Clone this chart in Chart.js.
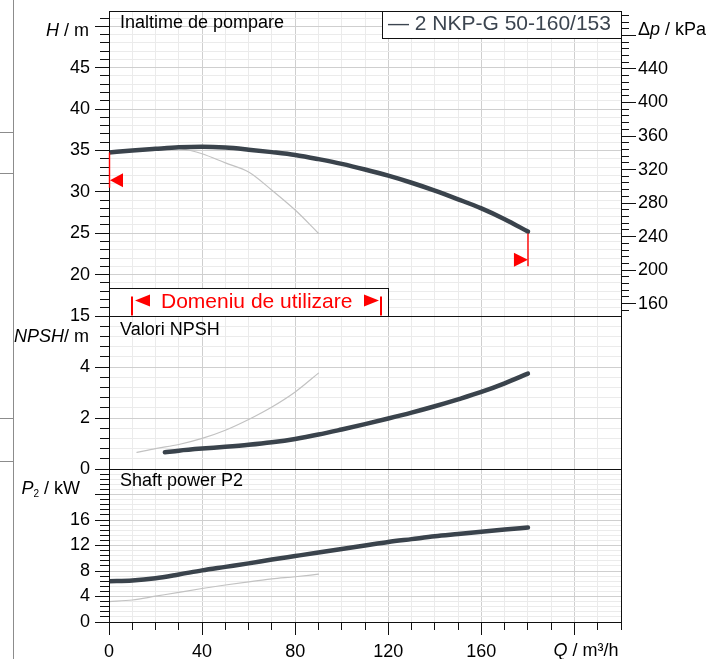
<!DOCTYPE html>
<html><head><meta charset="utf-8">
<script src="https://cdn.jsdelivr.net/npm/chart.js@4.4.1/dist/chart.umd.min.js"></script>
<style>
html,body{margin:0;padding:0;background:#fff;width:712px;height:659px;overflow:hidden;}
#wrap{position:relative;width:712px;height:659px;}
canvas{position:absolute;left:0;top:0;}
.pg{position:absolute;background:#8c8c8c;}
</style></head><body>
<div id="wrap">
<div class="pg" style="left:13px;top:0;width:1px;height:659px"></div>
<div class="pg" style="left:0;top:132px;width:14px;height:1px"></div>
<div class="pg" style="left:0;top:173px;width:14px;height:1px"></div>
<div class="pg" style="left:0;top:418px;width:14px;height:1px"></div>
<div class="pg" style="left:0;top:461px;width:14px;height:1px"></div>
<canvas id="cH" width="712" height="659"></canvas>
<canvas id="cN" width="712" height="659"></canvas>
<canvas id="cP" width="712" height="659"></canvas>
</div>
<script>
// ---------- data ----------
const qMain      = [0,10,20,30,40,50,60,70,80,90,100,110,120,130,140,150,160,170,180];
const headMain   = [34.75,35.0,35.2,35.38,35.45,35.35,35.1,34.8,34.45,33.95,33.38,32.7,31.95,31.1,30.15,29.1,28.0,26.7,25.2];
const qHeadAlt   = [30,35,40,50,60,70,80,90];
const headAlt    = [35.25,35.0,34.6,33.5,32.4,30.2,27.8,25.0];

const qNpshMain  = [24,30,40,50,60,70,80,90,100,110,120,130,140,150,160,170,180];
const npshMain   = [0.66,0.72,0.80,0.87,0.95,1.05,1.18,1.35,1.55,1.76,1.98,2.21,2.46,2.73,3.02,3.36,3.74];
const qNpshAlt   = [12,20,30,40,50,60,70,80,90];
const npshAlt    = [0.65,0.80,0.96,1.20,1.52,1.94,2.43,3.02,3.76];

const powerMain  = [6.4,6.5,6.85,7.45,8.1,8.65,9.2,9.8,10.35,10.9,11.45,12.0,12.55,13.0,13.45,13.8,14.15,14.5,14.82];
const qPowerAlt  = [0,10,20,30,40,50,60,70,80,90];
const powerAlt   = [3.2,3.45,4.05,4.65,5.25,5.8,6.3,6.75,7.1,7.5];

const qTickLabels     = [0,40,80,120,160];
const hTickLabels     = [15,20,25,30,35,40,45];
const dpTickLabels    = [160,200,240,280,320,360,400,440];
const npshTickLabels  = [0,2,4];
const powerTickLabels = [0,4,8,12,16];

const seriesName = '2 NKP-G 50-160/153';
const rangeLabel = 'Domeniu de utilizare';
// operating-range markers (data units)
const rangeStartQ = 10, rangeEndQ = 117, rangeBoxEndQ = 120;
const leftMark  = {q:0,   hFrom:34.75, hTo:30.5, hArrow:31.4};
const rightMark = {q:180, hFrom:25.2,  hTo:21.0, hArrow:21.8};

// ---------- style ----------
const FONT = "'Liberation Sans', Arial, sans-serif";
const MAIN = '#3a434c', ALT = '#c2c2c2';
const GRID_MAJOR = '#cfcfcf', GRID_MINOR = '#ebebeb';

function isMult(v, m){ const r = v/m; return Math.abs(r - Math.round(r)) < 1e-6; }
function near(v, arr){ return arr.some(a => Math.abs(a - v) < 1e-6); }
function al(p){ return Math.round(p - 0.5) + 0.5; }
function zeroPad(s){ s.paddingTop = 0; s.paddingBottom = 0; s.paddingLeft = 0; s.paddingRight = 0; }
function fixW(w){ return s => { s.width = w; zeroPad(s); }; }
function fixH(h){ return s => { s.height = h; zeroPad(s); }; }

function xScale(show){
  return {
    type:'linear', position:'bottom', min:0, max:220,
    border:{display:false},
    grid:{drawTicks:false, lineWidth:1, color: c => isMult(c.tick.value,40) ? GRID_MAJOR : GRID_MINOR},
    ticks:{display:show, stepSize:10, autoSkip:false, includeBounds:false, maxRotation:0, padding:19,
      color:'#000', font:{family:FONT, size:18},
      callback: v => near(v, qTickLabels) ? String(v) : ''},
    afterFit: fixH(show ? 37 : 0)
  };
}
function yScale(min, max, step, majorStep, labels, pos, width, pad, grid){
  return {
    type:'linear', position:pos, min:min, max:max,
    border:{display:false},
    grid: grid ? {drawTicks:false, lineWidth:1, color: c => isMult(c.tick.value, majorStep) ? GRID_MAJOR : GRID_MINOR}
               : {display:false, drawTicks:false},
    ticks:{stepSize:step, autoSkip:false, includeBounds:false, padding:pad, color:'#000',
      font:{family:FONT, size:18},
      callback: v => near(v, labels) ? String(v) : ''},
    afterFit: fixW(width)
  };
}
function lineDs(qs, ys, color, width, yAxisID){
  return {
    data: qs.map((q,i) => ({x:q, y:ys[i]})),
    borderColor: color, borderWidth: width, pointRadius: 0, fill: false,
    cubicInterpolationMode: 'monotone', borderCapStyle: 'round', borderJoinStyle:'round',
    yAxisID: yAxisID
  };
}

function drawTicks(ctx, scale, side, majorStep, majorLen, minorLen){
  ctx.save(); ctx.strokeStyle = '#111'; ctx.lineWidth = 1; ctx.beginPath();
  scale.ticks.forEach(t => {
    const len = isMult(t.value, majorStep) ? majorLen : minorLen;
    if (side === 'left' || side === 'right'){
      const y = al(scale.getPixelForValue(t.value));
      const x0 = side === 'left' ? scale.right : scale.left;
      ctx.moveTo(x0, y); ctx.lineTo(side === 'left' ? x0 - len : x0 + len, y);
    } else {
      const x = al(scale.getPixelForValue(t.value));
      ctx.moveTo(x, scale.top); ctx.lineTo(x, scale.top + len);
    }
  });
  ctx.stroke(); ctx.restore();
}
function drawFrame(ctx, a){
  ctx.save(); ctx.strokeStyle = '#111'; ctx.lineWidth = 1;
  ctx.strokeRect(al(a.left), al(a.top), al(a.right) - al(a.left), al(a.bottom) - al(a.top));
  ctx.restore();
}
// segments: [text, italic, size, dy]
function drawRich(ctx, segs, x, y, align, color){
  ctx.save(); ctx.fillStyle = color || '#000'; ctx.textBaseline = 'alphabetic'; ctx.textAlign = 'left';
  const fontOf = s => (s[1] ? 'italic ' : '') + (s[2] || 18) + 'px ' + FONT;
  let total = 0;
  segs.forEach(s => { ctx.font = fontOf(s); total += ctx.measureText(s[0]).width; });
  let cx = align === 'right' ? x - total : x;
  segs.forEach(s => { ctx.font = fontOf(s); ctx.fillText(s[0], cx, y + (s[3] || 0)); cx += ctx.measureText(s[0]).width; });
  ctx.restore();
}
function tri(ctx, tipX, cy, dir, w, h, color){
  ctx.save(); ctx.fillStyle = color; ctx.beginPath();
  ctx.moveTo(tipX, cy); ctx.lineTo(tipX - dir*w, cy - h); ctx.lineTo(tipX - dir*w, cy + h); ctx.closePath(); ctx.fill();
  ctx.restore();
}

const base = {
  responsive:false, animation:false, devicePixelRatio:1,
  plugins:{legend:{display:false}, tooltip:{enabled:false}, title:{display:false}},
  events: []
};

// ---------- Head chart ----------
new Chart(document.getElementById('cH'), {
  type:'line',
  data:{datasets:[
    lineDs(qMain, headMain, MAIN, 4.5, 'y'),
    lineDs(qHeadAlt, headAlt, ALT, 1.2, 'y')
  ]},
  options: Object.assign({}, base, {
    layout:{padding:{top:11, bottom:343, left:0, right:0}},
    scales:{
      x: xScale(false),
      y: yScale(15, 51.85, 1, 5, hTickLabels, 'left', 109, 19, true),
      y1: yScale(145.3, 509.2, 8, 40, dpTickLabels, 'right', 91, 17, false)
    }
  }),
  plugins:[{ id:'decorH', afterDraw(chart){
    const ctx = chart.ctx, a = chart.chartArea, xs = chart.scales.x, ys = chart.scales.y;
    drawFrame(ctx, a);
    drawTicks(ctx, ys, 'left', 5, 14, 9);
    drawTicks(ctx, chart.scales.y1, 'right', 40, 15, 8);
    // operating range markers on curve ends
    ctx.save(); ctx.strokeStyle = '#ff0000'; ctx.lineWidth = 1.4; ctx.beginPath();
    let x = Math.round(xs.getPixelForValue(leftMark.q)) + 0.5;
    ctx.moveTo(x, ys.getPixelForValue(leftMark.hFrom)); ctx.lineTo(x, ys.getPixelForValue(leftMark.hTo));
    x = Math.round(xs.getPixelForValue(rightMark.q));
    ctx.moveTo(x, ys.getPixelForValue(rightMark.hFrom) + 2); ctx.lineTo(x, ys.getPixelForValue(rightMark.hTo));
    ctx.stroke(); ctx.restore();
    tri(ctx, xs.getPixelForValue(leftMark.q) + 1, ys.getPixelForValue(leftMark.hArrow), -1, 13, 7, '#ff0000');
    tri(ctx, xs.getPixelForValue(rightMark.q), ys.getPixelForValue(rightMark.hArrow), 1, 14, 7, '#ff0000');
    // Domeniu box
    const bx0 = al(xs.getPixelForValue(0)), bx1 = al(xs.getPixelForValue(rangeBoxEndQ));
    const by1 = al(a.bottom), by0 = by1 - 28;
    ctx.save(); ctx.fillStyle = '#fff'; ctx.fillRect(bx0, by0, bx1 - bx0, by1 - by0);
    ctx.strokeStyle = '#111'; ctx.lineWidth = 1; ctx.strokeRect(bx0, by0, bx1 - bx0, by1 - by0);
    ctx.strokeStyle = '#ff0000'; ctx.lineWidth = 2; ctx.beginPath();
    const rx0 = Math.round(xs.getPixelForValue(rangeStartQ)), rx1 = Math.round(xs.getPixelForValue(rangeEndQ));
    ctx.moveTo(rx0, by0 + 8); ctx.lineTo(rx0, by1 - 1);
    ctx.moveTo(rx1, by0 + 8); ctx.lineTo(rx1, by1 - 1);
    ctx.stroke(); ctx.restore();
    tri(ctx, rx0 + 3, by0 + 12, -1, 15, 6, '#ff0000');
    tri(ctx, rx1 - 2, by0 + 12, 1, 15, 6, '#ff0000');
    drawRich(ctx, [[rangeLabel, false, 21]], rx0 + 29, by0 + 19.5, 'left', '#ff0000');
    // legend box
    ctx.save(); ctx.fillStyle = '#fff';
    const lx0 = 382.5, lx1 = al(a.right), ly0 = al(a.top), ly1 = ly0 + 27;
    ctx.fillRect(lx0, ly0, lx1 - lx0, ly1 - ly0);
    ctx.strokeStyle = '#111'; ctx.lineWidth = 1; ctx.strokeRect(lx0, ly0, lx1 - lx0, ly1 - ly0);
    ctx.restore();
    drawRich(ctx, [['\u2014 ' + seriesName, false, 21]], lx0 + 5.5, 30, 'left', '#3c4550');
    // texts
    drawRich(ctx, [['Inaltime de pompare', false, 18]], a.left + 11, 27.5, 'left');
    drawRich(ctx, [['H', true], [' / m']], 89, 36, 'right');
    drawRich(ctx, [['\u0394'], ['p', true], [' / kPa']], 638, 35, 'left');
  }}]
});

// ---------- NPSH chart ----------
new Chart(document.getElementById('cN'), {
  type:'line',
  data:{datasets:[
    lineDs(qNpshMain, npshMain, MAIN, 4.5, 'y'),
    lineDs(qNpshAlt, npshAlt, ALT, 1.2, 'y')
  ]},
  options: Object.assign({}, base, {
    layout:{padding:{top:316, bottom:190, left:0, right:91}},
    scales:{
      x: xScale(false),
      y: yScale(0, 6, 0.4, 2, npshTickLabels, 'left', 109, 19, true)
    }
  }),
  plugins:[{ id:'decorN', afterDraw(chart){
    const ctx = chart.ctx, a = chart.chartArea;
    drawFrame(ctx, a);
    drawTicks(ctx, chart.scales.y, 'left', 2, 14, 9);
    drawRich(ctx, [['Valori NPSH', false, 18]], a.left + 11, 334.5, 'left');
    drawRich(ctx, [['NPSH', true], ['/ m']], 89, 342, 'right');
  }}]
});

// ---------- Power chart ----------
new Chart(document.getElementById('cP'), {
  type:'line',
  data:{datasets:[
    lineDs(qMain, powerMain, MAIN, 4.5, 'y'),
    lineDs(qPowerAlt, powerAlt, ALT, 1.2, 'y')
  ]},
  options: Object.assign({}, base, {
    layout:{padding:{top:469, bottom:0, left:0, right:91}},
    scales:{
      x: xScale(true),
      y: yScale(0, 24, 0.8, 4, powerTickLabels, 'left', 109, 19, true)
    }
  }),
  plugins:[{ id:'decorP', afterDraw(chart){
    const ctx = chart.ctx, a = chart.chartArea;
    drawFrame(ctx, a);
    drawTicks(ctx, chart.scales.y, 'left', 4, 14, 9);
    drawTicks(ctx, chart.scales.x, 'bottom', 40, 13, 8);
    drawRich(ctx, [['Shaft power P2', false, 18]], a.left + 11, 486, 'left');
    drawRich(ctx, [['P', true], ['2', false, 10, 3], [' / kW']], 80, 494, 'right');
    drawRich(ctx, [['Q', true], [' / m\u00b3/h']], 618.5, 656, 'right');
  }}]
});
</script>
</body></html>
